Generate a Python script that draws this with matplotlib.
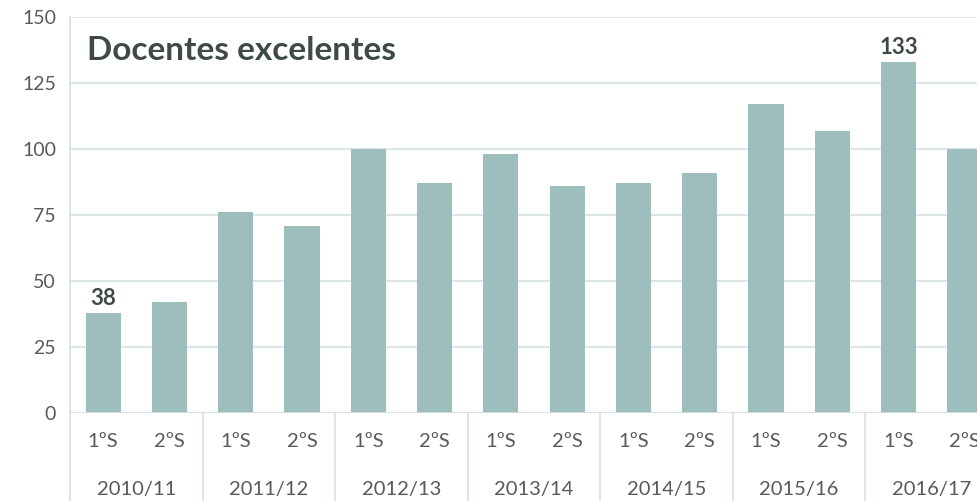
import matplotlib.pyplot as plt

# data
years = ['2010/11', '2011/12', '2012/13', '2013/14', '2014/15', '2015/16', '2016/17']
semesters = ['1ºS', '2ºS']
values = [38, 42, 76, 71, 100, 87, 98, 86, 87, 91, 117, 107, 133, 100]
labelled = {0: '38', 12: '133'}

bar_color = '#9dbebc'
grid_color = '#d5e1e0'
text_color = '#595959'
title_color = '#3f4a47'

plt.rcParams['font.family'] = ['Lato', 'DejaVu Sans']

fig = plt.figure(figsize=(9.78, 5.01), dpi=100)
ax = fig.add_axes([70 / 978, 88 / 501, 928 / 978, 396 / 501])

x = list(range(len(values)))
ax.bar(x, values, width=0.53, color=bar_color, zorder=3)

ax.set_xlim(-0.5, len(values) - 0.5)
ax.set_ylim(0, 150)
ax.set_yticks(range(0, 151, 25))
ax.tick_params(axis='y', length=0, pad=10, labelsize=14, labelcolor=text_color)
ax.set_xticks([])
ax.yaxis.grid(True, color=grid_color, linewidth=1.2, zorder=0)

for s in ['top', 'right', 'bottom']:
    ax.spines[s].set_visible(False)
ax.spines['left'].set_color(grid_color)
ax.spines['left'].set_linewidth(1.2)
ax.axhline(0, color=grid_color, linewidth=1.2, zorder=4)

# data labels
for i, txt in labelled.items():
    ax.annotate(txt, (i, values[i]), xytext=(0, 3), textcoords='offset points',
                ha='center', va='bottom', fontsize=16, fontweight='bold',
                color=title_color)

# two-level category axis
trans = ax.get_xaxis_transform()
for i in x:
    ax.text(i, -0.071, semesters[i % 2], transform=trans, ha='center', va='center',
            fontsize=14.5, color=text_color, clip_on=False)
for j, yr in enumerate(years):
    ax.text(2 * j + 0.5, -0.194, yr, transform=trans, ha='center', va='center',
            fontsize=14.5, color=text_color, clip_on=False)
for j in range(len(years) + 1):
    ax.plot([2 * j - 0.5, 2 * j - 0.5], [0, -0.23], transform=trans,
            color=grid_color, linewidth=1.2, clip_on=False)

ax.text(0.018, 0.915, 'Docentes excelentes', transform=ax.transAxes,
        fontsize=24, fontweight='bold', color=title_color, va='center', ha='left')

plt.savefig('out.png', dpi=100)
